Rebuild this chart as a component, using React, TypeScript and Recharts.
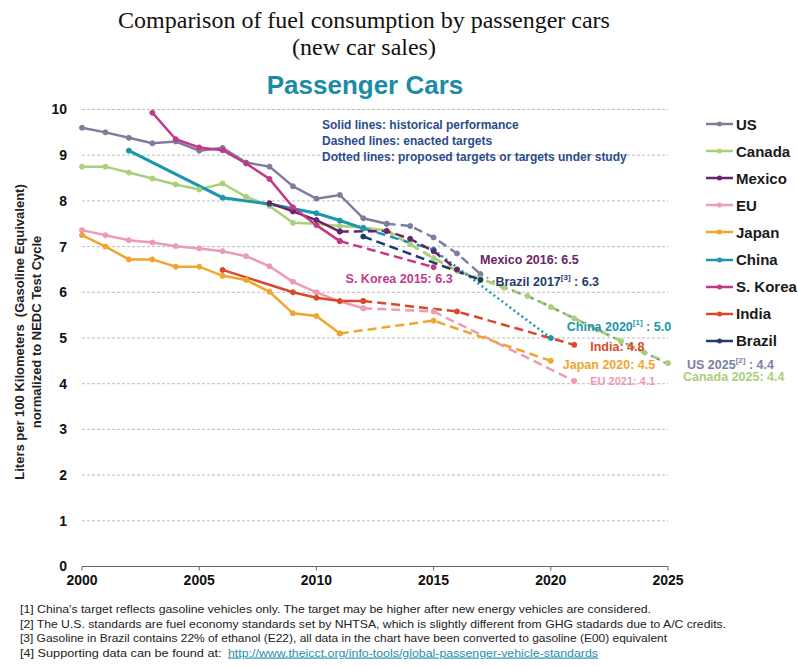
import React from "react";
import { LineChart, Line, XAxis, YAxis, CartesianGrid, ReferenceDot } from "recharts";

type Pt = [number, number];

const YEAR_TICKS = [2000, 2005, 2010, 2015, 2020, 2025];
const VALUE_TICKS = [0, 1, 2, 3, 4, 5, 6, 7, 8, 9, 10];

const COUNTRIES = ["US", "Canada", "Mexico", "EU", "Japan", "China", "S. Korea", "India", "Brazil"];
const COLORS = ["#7d7e9e", "#a9d07a", "#6b2469", "#ec9bb3", "#f2a52c", "#1b96aa", "#c2398a", "#d9482c", "#1f3d6c"];

// solid lines: historical performance
const US_HIST: Pt[] = [[2000, 9.6], [2001, 9.5], [2002, 9.38], [2003, 9.26], [2004, 9.3], [2005, 9.1], [2006, 9.16], [2007, 8.84], [2008, 8.75], [2009, 8.32], [2010, 8.05], [2011, 8.13], [2012, 7.62], [2013, 7.5]];
const CANADA_HIST: Pt[] = [[2000, 8.75], [2001, 8.75], [2002, 8.62], [2003, 8.49], [2004, 8.36], [2005, 8.25], [2006, 8.38], [2007, 8.09], [2008, 7.89], [2009, 7.52], [2010, 7.5], [2011, 7.45], [2012, 7.42], [2013, 7.35]];
const MEXICO_HIST: Pt[] = [[2008, 7.95], [2009, 7.77], [2010, 7.58], [2011, 7.33]];
const EU_HIST: Pt[] = [[2000, 7.36], [2001, 7.25], [2002, 7.14], [2003, 7.09], [2004, 7.01], [2005, 6.96], [2006, 6.9], [2007, 6.79], [2008, 6.57], [2009, 6.23], [2010, 6.0], [2011, 5.8], [2012, 5.65]];
const JAPAN_HIST: Pt[] = [[2000, 7.25], [2001, 7.0], [2002, 6.72], [2003, 6.72], [2004, 6.56], [2005, 6.56], [2006, 6.36], [2007, 6.27], [2008, 6.01], [2009, 5.54], [2010, 5.48], [2011, 5.1]];
const CHINA_HIST: Pt[] = [[2002, 9.1], [2006, 8.07], [2008, 7.93], [2010, 7.73], [2011, 7.57], [2012, 7.4]];
const KOREA_HIST: Pt[] = [[2003, 9.93], [2004, 9.35], [2005, 9.17], [2006, 9.11], [2007, 8.82], [2008, 8.48], [2009, 7.86], [2010, 7.47], [2011, 7.12]];
const INDIA_HIST: Pt[] = [[2006, 6.49], [2009, 6.0], [2010, 5.88], [2011, 5.81], [2012, 5.81]];

// dashed lines: enacted targets
const US_TARGET: Pt[] = [[2013, 7.5], [2014, 7.45], [2015, 7.2], [2016, 6.85], [2017, 6.4]];
const US_TARGET_LATE: Pt[] = [[2017, 6.4], [2018, 6.12], [2019, 5.92], [2020, 5.68], [2021, 5.43], [2022, 5.18], [2023, 4.93], [2024, 4.68], [2025, 4.42]];
const CANADA_TARGET: Pt[] = [[2013, 7.35], [2014, 7.05], [2015, 6.75], [2016, 6.47], [2017, 6.3], [2018, 6.1], [2019, 5.92], [2020, 5.68], [2021, 5.43], [2022, 5.18], [2023, 4.93], [2024, 4.68], [2025, 4.45]];
const MEXICO_TARGET: Pt[] = [[2011, 7.33], [2013, 7.34], [2014, 7.17], [2015, 6.9], [2016, 6.5]];
const KOREA_TARGET: Pt[] = [[2011, 7.12], [2015, 6.55]];
const CHINA_TARGET: Pt[] = [[2012, 7.4], [2015, 6.93]];
const JAPAN_TARGET: Pt[] = [[2011, 5.1], [2015, 5.38], [2020, 4.5]];
const EU_TARGET: Pt[] = [[2012, 5.65], [2015, 5.58], [2021, 4.06]];
const INDIA_TARGET: Pt[] = [[2012, 5.81], [2016, 5.58], [2021, 4.85]];
const BRAZIL_TARGET: Pt[] = [[2012, 7.22], [2017, 6.27]];

// dotted lines: proposed targets
const CHINA_PROPOSED: Pt[] = [[2015, 6.93], [2020, 5.0]];

const TAGS = [
  { x: 2016, y: 6.5, text: "Mexico 2016: 6.5", sup: "", tail: "" },
  { x: 2015, y: 6.55, text: "S. Korea 2015: 6.3", sup: "", tail: "" },
  { x: 2017, y: 6.27, text: "Brazil 2017", sup: "[3]", tail: " : 6.3" },
  { x: 2020, y: 5.0, text: "China 2020", sup: "[1]", tail: " : 5.0" },
  { x: 2021, y: 4.85, text: "India: 4.8", sup: "", tail: "" },
  { x: 2020, y: 4.5, text: "Japan 2020: 4.5", sup: "", tail: "" },
  { x: 2021, y: 4.06, text: "EU 2021: 4.1", sup: "", tail: "" },
  { x: 2025, y: 4.42, text: "US 2025", sup: "[2]", tail: " : 4.4" },
  { x: 2025, y: 4.45, text: "Canada 2025: 4.4", sup: "", tail: "" },
];

const FOOTNOTES = [
  "[1] China's target reflects gasoline vehicles only. The target may be higher after new energy vehicles are considered.",
  "[2] The U.S. standards are fuel economy standards set by NHTSA, which is slightly different from GHG stadards due to A/C credits.",
  "[3] Gasoline in Brazil contains 22% of ethanol (E22), all data in the chart have been converted to gasoline (E00) equivalent",
  "[4] Supporting data can be found at: ",
];
const LINK = "http://www.theicct.org/info-tools/global-passenger-vehicle-standards";

const rows = (pts: Pt[]) => pts.map(([year, v]) => ({ year, v }));

const SANS = "'Liberation Sans', Arial, sans-serif";
const DASH = "9 5";

// [data, colour index, style, width]
const SERIES: [Pt[], number, string, number][] = [
  [US_HIST, 0, "", 2.5],
  [CANADA_HIST, 1, "", 2.5],
  [EU_HIST, 3, "", 2.5],
  [JAPAN_HIST, 4, "", 2.5],
  [INDIA_HIST, 7, "", 2.5],
  [CHINA_HIST, 5, "", 3],
  [MEXICO_HIST, 2, "", 2.5],
  [KOREA_HIST, 6, "", 2.5],
  [US_TARGET, 0, DASH, 2.5],
  [CANADA_TARGET, 1, DASH, 3],
  [US_TARGET_LATE, 0, "2 5", 1.5],
  [EU_TARGET, 3, DASH, 2.5],
  [JAPAN_TARGET, 4, DASH, 2.5],
  [INDIA_TARGET, 7, DASH, 2.5],
  [CHINA_TARGET, 5, DASH, 2.5],
  [CHINA_PROPOSED, 5, "2 3", 2.5],
  [MEXICO_TARGET, 2, DASH, 2.5],
  [KOREA_TARGET, 6, DASH, 2.5],
  [BRAZIL_TARGET, 8, DASH, 2.5],
];

// label offset (px) from its anchor point, colour index, font size, anchor
const TAG_STYLE: [number, number, number, number, string][] = [
  [23, -9.5, 2, 12.5, "start"],
  [19, 12, 6, 12.5, "end"],
  [15, 2, 8, 12.5, "start"],
  [16, -11, 5, 12.5, "start"],
  [16, 2, 7, 12.5, "start"],
  [12, 4, 4, 12.5, "start"],
  [16, 0, 3, 11, "start"],
  [19, 0, 0, 12.5, "start"],
  [15, 14, 1, 12.5, "start"],
];

export default function App() {
  return (
    <div style={{ position: "absolute", left: 0, top: 0, width: 798, height: 666, background: "#fff", overflow: "hidden", fontFamily: SANS }}>
      <div style={{ position: "absolute", left: 0, top: 0 }}>
        <LineChart width={798} height={666} margin={{ top: 109.5, right: 130, bottom: 69.5, left: 42 }}>
          <CartesianGrid vertical={false} stroke="#bdbdbd" strokeDasharray="3 2" />
          <XAxis
            type="number"
            dataKey="year"
            domain={[2000, 2025]}
            ticks={YEAR_TICKS}
            height={30}
            tickSize={4}
            tickMargin={5}
            stroke="#666"
            tick={{ fill: "#111", fontSize: 14, fontWeight: 700, fontFamily: SANS }}
          />
          <YAxis
            type="number"
            domain={[0, 10]}
            ticks={VALUE_TICKS}
            width={40}
            axisLine={false}
            tickLine={false}
            tickMargin={9}
            tick={{ fill: "#111", fontSize: 14, fontWeight: 700, fontFamily: SANS }}
          />
          {SERIES.map(([pts, ci, dash, w], i) => (
            <Line
              key={"s" + i}
              name={COUNTRIES[ci] + i}
              data={rows(pts)}
              dataKey="v"
              type="linear"
              stroke={COLORS[ci]}
              strokeWidth={w}
              strokeDasharray={dash || undefined}
              dot={dash === "2 5" ? false : { r: 2.5, fill: COLORS[ci], stroke: COLORS[ci], strokeWidth: 1, strokeDasharray: "" }}
              activeDot={false}
              isAnimationActive={false}
            />
          ))}
          {TAGS.map((t, i) => {
            const [dx, dy, ci, fs, anchor] = TAG_STYLE[i];
            return (
              <ReferenceDot
                key={"t" + i}
                x={t.x}
                y={t.y}
                r={1}
                ifOverflow="visible"
                shape={(p: any) => (
                  <text
                    x={p.cx + dx}
                    y={p.cy + dy}
                    textAnchor={anchor as any}
                    dominantBaseline="central"
                    fill={COLORS[ci]}
                    fontSize={fs}
                    fontWeight={700}
                    fontFamily={SANS}
                  >
                    {t.text}
                    {t.sup && (
                      <tspan fontSize={8} dy={-5}>{t.sup}</tspan>
                    )}
                    {t.tail && <tspan dy={t.sup ? 5 : 0}>{t.tail}</tspan>}
                  </text>
                )}
              />
            );
          })}
        </LineChart>
      </div>

      <div style={{ position: "absolute", left: 0, top: 7, width: 728, textAlign: "center", fontFamily: "'Liberation Serif', 'Times New Roman', serif", fontSize: 24, lineHeight: "27px", color: "#111" }}>
        Comparison of fuel consumption by passenger cars
        <br />
        (new car sales)
      </div>
      <div style={{ position: "absolute", left: 0, top: 70, width: 730, textAlign: "center", fontSize: 26, lineHeight: "30px", fontWeight: 700, color: "#1c8ba5" }}>
        Passenger Cars
      </div>

      <div style={{ position: "absolute", left: 322, top: 117, fontSize: 12, lineHeight: "16px", fontWeight: 700, color: "#2b4c8c" }}>
        <div>Solid lines: historical performance</div>
        <div>Dashed lines: enacted targets</div>
        <div>Dotted lines: proposed targets or targets under study</div>
      </div>

      {COUNTRIES.map((c, i) => (
        <div key={c} style={{ position: "absolute", left: 706, top: 114 + i * 27.1, height: 20, display: "flex", alignItems: "center" }}>
          <svg width={28} height={10} style={{ marginRight: 2 }}>
            <line x1={0} y1={5} x2={27} y2={5} stroke={COLORS[i]} strokeWidth={2.5} />
            <circle cx={13.5} cy={5} r={2.5} fill={COLORS[i]} />
          </svg>
          <span style={{ fontSize: 15, fontWeight: 700, color: "#1a1a1a" }}>{c}</span>
        </div>
      ))}

      <svg style={{ position: "absolute", left: 0, top: 0 }} width={80} height={666}>
        <text transform="translate(19,332) rotate(-90)" textAnchor="middle" dominantBaseline="central" fontSize={13} fontWeight={700} fill="#222" style={{ whiteSpace: "pre" }}>
          Liters per 100 Kilometers  (Gasoline Equivalent)
        </text>
        <text transform="translate(36,332) rotate(-90)" textAnchor="middle" dominantBaseline="central" fontSize={13} fontWeight={700} fill="#222">
          normalized to NEDC Test Cycle
        </text>
      </svg>

      <svg style={{ position: "absolute", left: 0, top: 595 }} width={798} height={71}>
        <text x={20} y={18} fontSize={11.5} fill="#222" textLength={631} lengthAdjust="spacingAndGlyphs">{FOOTNOTES[0]}</text>
        <text x={20} y={32.5} fontSize={11.5} fill="#222" textLength={706} lengthAdjust="spacingAndGlyphs">{FOOTNOTES[1]}</text>
        <text x={20} y={47} fontSize={11.5} fill="#222" textLength={647} lengthAdjust="spacingAndGlyphs">{FOOTNOTES[2]}</text>
        <text x={20} y={61.5} fontSize={11.5} fill="#222" textLength={205} lengthAdjust="spacingAndGlyphs" style={{ whiteSpace: "pre" }}>{FOOTNOTES[3]}</text>
        <text x={228} y={61.5} fontSize={11.5} fill="#1f8fb0" textLength={370} lengthAdjust="spacingAndGlyphs" textDecoration="underline">{LINK}</text>
      </svg>
    </div>
  );
}
